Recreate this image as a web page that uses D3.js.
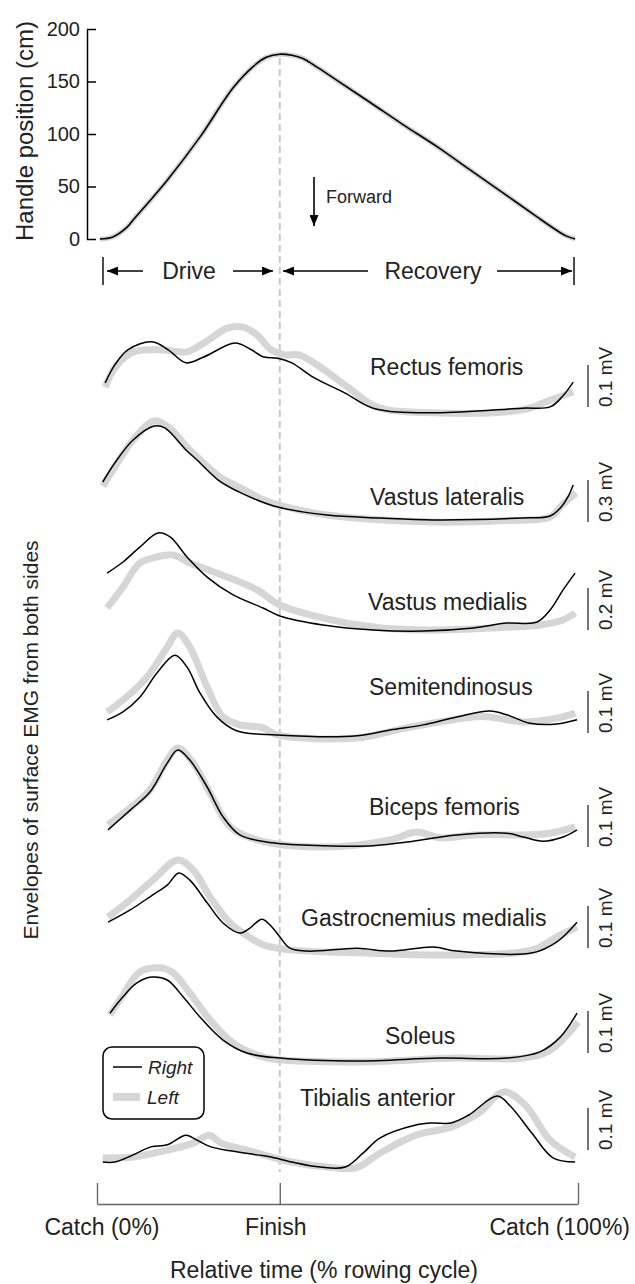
<!DOCTYPE html>
<html>
<head>
<meta charset="utf-8">
<script src="https://cdn.jsdelivr.net/npm/d3@7"></script>
<style>
body { margin: 0; background: #fff; }
text { font-family: "Liberation Sans", Arial, sans-serif; fill: #222; }
</style>
</head>
<body>
<svg id="chart"></svg>
<script>
// handle position over the cycle (% cycle, cm)
var handlePct = [0.6, 3.3, 6.2, 7.5, 14.6, 21.4, 28.3, 32.4, 35.2, 38.0, 40.5, 42.8, 46.0, 49.9, 56.8, 63.6, 70.7, 77.5, 84.4, 91.5, 95.0, 97.5, 99.4];
var handleCm = [0, 2, 11, 18, 56, 97, 144, 164, 173, 176, 175, 172, 163, 151, 130, 109, 88, 66, 44, 21, 10, 3, 0];
var handleTicks = [0, 50, 100, 150, 200];

// phase marks on the time axis
var finishPct = 38;
var phaseTicks = [0, finishPct, 100];
var phaseLabels = ['Catch (0%)', 'Finish', 'Catch (100%)'];

// EMG envelopes, [% cycle, mV]
var rectusRight = [[1.7,.081],[3.7,.124],[6.4,.160],[11.4,.179],[14.8,.160],[18.5,.129],[22.2,.143],[28.7,.176],[31.8,.162],[34.7,.143],[37.6,.140],[40.5,.129],[44.9,.095],[51.6,.057],[57.4,.021],[69.9,.010],[88.4,.021],[94.2,.024],[96.7,.048],[99.0,.083]];
var rectusLeft = [[1.7,.071],[3.7,.117],[7.5,.155],[13.3,.160],[18.5,.155],[22.2,.176],[27.2,.212],[30.4,.214],[33.3,.195],[36.2,.160],[39.1,.148],[42.0,.148],[46.4,.119],[52.4,.069],[58.2,.024],[69.9,.010],[88.4,.017],[94.2,.040],[99.0,.060]];

var latRight = [[1.2,.300],[3.7,.436],[7.5,.600],[11.9,.700],[14.1,.686],[18.5,.529],[20.8,.457],[25.2,.314],[29.5,.229],[33.3,.171],[37.6,.121],[47.8,.064],[58.8,.043],[69.9,.029],[88.4,.043],[94.2,.057],[96.5,.121],[97.9,.193],[99.0,.279]];
var latLeft = [[1.2,.271],[3.7,.407],[7.5,.600],[11.9,.736],[14.8,.693],[19.3,.529],[25.8,.329],[29.5,.264],[34.7,.171],[37.6,.136],[47.8,.064],[69.9,.014],[85.0,.025],[94.2,.050],[96.7,.136],[99.6,.221]];

var medRight = [[2.1,.290],[5.4,.343],[8.9,.414],[12.7,.481],[15.2,.462],[18.7,.367],[22.9,.271],[28.3,.186],[34.5,.124],[38.0,.086],[47.0,.043],[57.4,.019],[67.8,.014],[78.2,.029],[85.2,.052],[91.5,.057],[94.2,.114],[96.9,.210],[99.4,.290]];
var medLeft = [[2.1,.124],[5.4,.224],[8.9,.338],[12.5,.367],[15.8,.376],[19.3,.338],[24.9,.290],[33.3,.210],[38.0,.138],[47.0,.076],[57.4,.033],[67.8,.019],[81.7,.029],[92.1,.043],[96.9,.067],[99.4,.100]];

var semiRight = [[2.1,.048],[5.4,.067],[8.9,.102],[12.5,.160],[16.2,.202],[18.7,.174],[21.4,.112],[24.9,.055],[29.0,.022],[37.4,.012],[54.1,.010],[60.9,.024],[67.8,.036],[74.8,.055],[81.7,.069],[85.2,.060],[90.0,.040],[95.6,.038],[99.8,.048]];
var semiLeft = [[2.1,.067],[5.4,.095],[10.4,.150],[14.6,.221],[16.8,.255],[19.3,.221],[22.9,.126],[26.2,.055],[29.7,.036],[34.5,.029],[37.4,.012],[54.1,.005],[64.4,.029],[78.2,.055],[81.7,.055],[88.6,.043],[95.6,.052],[99.4,.064]];

var bicepsRight = [[2.3,.048],[6.9,.095],[11.0,.138],[14.6,.207],[16.8,.238],[19.3,.214],[22.9,.150],[26.2,.079],[29.7,.036],[36.6,.017],[47.0,.010],[57.4,.010],[64.4,.019],[74.8,.036],[85.2,.040],[88.6,.031],[92.7,.021],[96.9,.031],[99.8,.048]];
var bicepsLeft = [[2.3,.060],[6.9,.100],[11.0,.143],[14.6,.214],[16.8,.243],[20.0,.207],[23.5,.136],[27.7,.055],[33.3,.024],[47.0,.007],[60.9,.024],[66.5,.043],[71.3,.029],[78.2,.036],[88.6,.036],[94.2,.040],[99.4,.055]];

var gastroRight = [[2.3,.083],[6.9,.112],[11.6,.148],[14.6,.171],[17.0,.200],[19.3,.183],[22.9,.129],[26.2,.081],[29.7,.057],[31.8,.069],[34.3,.090],[36.4,.071],[38.0,.048],[40.1,.021],[43.7,.014],[54.1,.021],[60.9,.014],[69.9,.024],[74.8,.014],[90.6,.010],[95.6,.036],[99.8,.083]];
var gastroLeft = [[2.3,.095],[6.9,.136],[11.6,.183],[16.8,.231],[20.0,.207],[23.5,.143],[27.7,.081],[30.4,.057],[34.5,.029],[40.1,.017],[54.1,.010],[74.8,.005],[90.6,.017],[95.6,.048],[99.8,.071]];

var soleusRight = [[2.7,.121],[5.4,.160],[8.3,.193],[11.4,.207],[14.6,.200],[17.9,.160],[21.4,.112],[26.2,.057],[31.2,.026],[38.0,.014],[54.1,.007],[71.3,.014],[85.2,.014],[92.1,.029],[96.3,.064],[99.8,.121]];
var soleusLeft = [[2.7,.117],[5.4,.164],[8.9,.219],[13.1,.229],[15.8,.217],[19.3,.169],[23.5,.105],[28.3,.050],[34.5,.017],[38.0,.010],[54.1,.005],[74.8,.014],[88.6,.014],[94.2,.033],[100,.100]];

var tibRight = [[1.2,.019],[3.7,.019],[7.5,.036],[11.2,.055],[14.6,.060],[18.5,.083],[20.8,.071],[23.7,.055],[28.1,.045],[33.3,.036],[36.2,.031],[40.5,.019],[46.4,.007],[51.6,.007],[55.3,.040],[58.8,.076],[66.3,.107],[69.9,.112],[73.6,.112],[77.3,.131],[83.2,.176],[86.1,.150],[90.4,.088],[94.8,.029],[99.4,.019]];
var tibLeft = [[1.2,.029],[7.5,.031],[14.8,.048],[20.0,.064],[23.3,.083],[25.8,.064],[31.0,.048],[34.7,.036],[40.5,.019],[47.8,.007],[53.8,.005],[58.8,.040],[66.3,.083],[73.6,.102],[79.4,.136],[84.6,.186],[89.0,.155],[94.2,.071],[99.4,.031]];

var muscleNames = ['Rectus femoris', 'Vastus lateralis', 'Vastus medialis', 'Semitendinosus',
    'Biceps femoris', 'Gastrocnemius medialis', 'Soleus', 'Tibialis anterior'];
var scaleBarMv = [0.1, 0.3, 0.2, 0.1, 0.1, 0.1, 0.1, 0.1];
var rightSeries = [rectusRight, latRight, medRight, semiRight, bicepsRight, gastroRight, soleusRight, tibRight];
var leftSeries = [rectusLeft, latLeft, medLeft, semiLeft, bicepsLeft, gastroLeft, soleusLeft, tibLeft];

// layout of the stacked panels
var panelZeroY = [417, 524, 634, 740, 850, 957, 1064, 1170];
var barBottomY = [407, 522, 630, 733, 847, 948, 1053, 1150];
var labelPos = [[370,367],[370,497],[368,602],[369,687],[369,807],[301,918],[385,1036],[300,1098]];
var barPx = 42;

var W = 635, H = 1284;
var svg = d3.select('#chart').attr('width', W).attr('height', H);

svg.append('defs').append('marker')
    .attr('id', 'arrow')
    .attr('markerUnits', 'userSpaceOnUse')
    .attr('markerWidth', 11).attr('markerHeight', 9)
    .attr('refX', 11).attr('refY', 4.5)
    .attr('orient', 'auto')
    .append('path').attr('d', 'M0,0 L11,4.5 L0,9 Z').attr('fill', '#000');

var x = d3.scaleLinear().domain([0, 100]).range([97, 578]);
var yHandle = d3.scaleLinear().domain([0, 200]).range([239, 29]);
var curve = d3.curveCatmullRom.alpha(0.5);

// dashed line at the finish
svg.append('line')
    .attr('x1', x(finishPct)).attr('x2', x(finishPct))
    .attr('y1', 58).attr('y2', 1172)
    .attr('stroke', '#c8c8c8').attr('stroke-width', 2)
    .attr('stroke-dasharray', '7,4');

/* top panel: handle position */
var yAxis = svg.append('g')
    .attr('transform', 'translate(87,0)')
    .call(d3.axisLeft(yHandle).tickValues(handleTicks).tickSize(-9).tickSizeOuter(0).tickPadding(7));
yAxis.selectAll('path, line').attr('stroke', '#000').attr('stroke-width', 1.5);
yAxis.selectAll('text').style('font-size', '20px').attr('fill', '#222');

var handleData = handlePct.map(function(p, i) { return [p, handleCm[i]]; });
var handleLine = d3.line().x(function(d){ return x(d[0]); }).y(function(d){ return yHandle(d[1]); }).curve(curve);
svg.append('path').attr('d', handleLine(handleData))
    .attr('fill', 'none').attr('stroke', '#d4d4d4').attr('stroke-width', 5);
svg.append('path').attr('d', handleLine(handleData))
    .attr('fill', 'none').attr('stroke', '#000').attr('stroke-width', 1.6);

svg.append('text').attr('transform', 'translate(33,131) rotate(-90)')
    .attr('text-anchor', 'middle').style('font-size', '24px').text('Handle position (cm)');

// forward arrow
svg.append('line').attr('x1', 314).attr('x2', 314).attr('y1', 177).attr('y2', 226)
    .attr('stroke', '#000').attr('stroke-width', 1.6).attr('marker-end', 'url(#arrow)');
svg.append('text').attr('x', 326).attr('y', 203).style('font-size', '18px').text('Forward');

// drive / recovery brackets
var arrowY = 271;
[[143, 107], [233, 273], [368, 283], [497, 572]].forEach(function(a) {
    svg.append('line').attr('x1', a[0]).attr('x2', a[1]).attr('y1', arrowY).attr('y2', arrowY)
        .attr('stroke', '#000').attr('stroke-width', 1.6).attr('marker-end', 'url(#arrow)');
});
[103, 574].forEach(function(bx) {
    svg.append('line').attr('x1', bx).attr('x2', bx).attr('y1', 257).attr('y2', 285)
        .attr('stroke', '#000').attr('stroke-width', 1.4);
});
svg.append('text').attr('x', 189).attr('y', 279).attr('text-anchor', 'middle').style('font-size', '23px').text('Drive');
svg.append('text').attr('x', 433).attr('y', 279).attr('text-anchor', 'middle').style('font-size', '23px').text('Recovery');

/* EMG panels */
muscleNames.forEach(function(name, i) {
    var y = d3.scaleLinear().domain([0, scaleBarMv[i]]).range([panelZeroY[i], panelZeroY[i] - barPx]);
    var line = d3.line().x(function(d){ return x(d[0]); }).y(function(d){ return y(d[1]); }).curve(curve);

    svg.append('path').attr('d', line(leftSeries[i]))
        .attr('fill', 'none').attr('stroke', '#d6d6d6').attr('stroke-width', 7);
    svg.append('path').attr('d', line(rightSeries[i]))
        .attr('fill', 'none').attr('stroke', '#000').attr('stroke-width', 1.5);

    svg.append('text').attr('x', labelPos[i][0]).attr('y', labelPos[i][1] + 8)
        .style('font-size', '23px').text(name);

    // scale bar
    svg.append('line').attr('x1', 588).attr('x2', 588)
        .attr('y1', barBottomY[i]).attr('y2', barBottomY[i] - barPx)
        .attr('stroke', '#444').attr('stroke-width', 1.5);
    svg.append('text').attr('transform', 'translate(612,' + barBottomY[i] + ') rotate(-90)')
        .style('font-size', '19px').text(scaleBarMv[i] + ' mV');
});

svg.append('text').attr('transform', 'translate(38,740) rotate(-90)')
    .attr('text-anchor', 'middle').style('font-size', '21px')
    .text('Envelopes of surface EMG from both sides');

// legend
var lg = svg.append('g');
lg.append('rect').attr('x', 103).attr('y', 1047).attr('width', 101).attr('height', 72).attr('rx', 9)
    .attr('fill', '#fff').attr('stroke', '#000').attr('stroke-width', 1.5);
lg.append('line').attr('x1', 113).attr('x2', 142).attr('y1', 1067).attr('y2', 1067)
    .attr('stroke', '#000').attr('stroke-width', 1.5);
lg.append('line').attr('x1', 113).attr('x2', 140).attr('y1', 1097).attr('y2', 1097)
    .attr('stroke', '#d6d6d6').attr('stroke-width', 8);
lg.append('text').attr('x', 148).attr('y', 1074).style('font-size', '19px').style('font-style', 'italic').text('Right');
lg.append('text').attr('x', 147).attr('y', 1104).style('font-size', '19px').style('font-style', 'italic').text('Left');

/* bottom time axis */
var xAxis = svg.append('g')
    .attr('transform', 'translate(0,1204)')
    .call(d3.axisTop(x).tickValues(phaseTicks).tickSize(21).tickSizeOuter(0).tickFormat(''));
xAxis.selectAll('path, line').attr('stroke', '#666').attr('stroke-width', 1.4);

phaseTicks.forEach(function(t, i) {
    var last = i === phaseTicks.length - 1;
    svg.append('text')
        .attr('x', last ? 630 : (i === 0 ? 102 : x(t) - 4))
        .attr('y', 1235)
        .attr('text-anchor', last ? 'end' : 'middle')
        .style('font-size', '23px')
        .text(phaseLabels[i]);
});

svg.append('text').attr('x', 324).attr('y', 1278).attr('text-anchor', 'middle')
    .style('font-size', '23px').text('Relative time (% rowing cycle)');
</script>
</body>
</html>
